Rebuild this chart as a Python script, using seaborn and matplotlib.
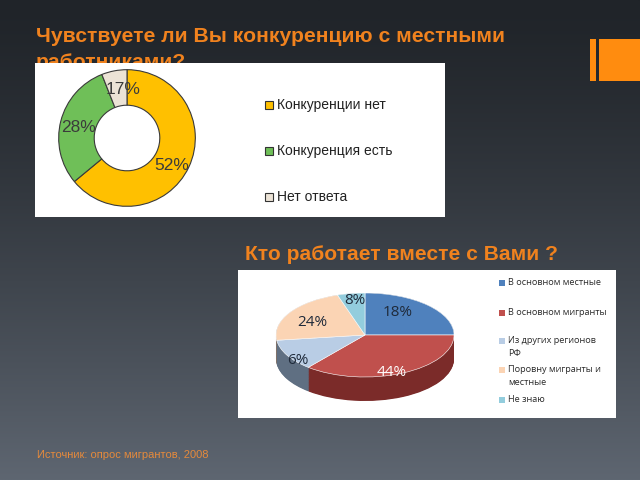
import numpy as np
import matplotlib
matplotlib.use("Agg")
import matplotlib.pyplot as plt
import seaborn as sns
from matplotlib.patches import Rectangle

# ---------------- data ----------------
title1_lines = ["Чувствуете ли Вы конкуренцию с местными", "работниками?"]
comp_categories = ["Конкуренции нет", "Конкуренция есть", "Нет ответа"]
comp_shares = [64, 30, 6]            # slice sizes as drawn in the picture
comp_labels = ["52%", "28%", "17%"]  # printed labels
comp_colors = ["#ffc000", "#6fbf58", "#ece3d6"]

title2 = "Кто работает вместе с Вами ?"
work_categories = ["В основном местные", "В основном мигранты",
                   "Из других регионов\nРФ", "Поровну мигранты и\nместные", "Не знаю"]
work_shares = [25, 36, 12, 22, 5]    # slice sizes as drawn in the picture
work_labels = ["18%", "44%", "6%", "24%", "8%"]
work_colors = ["#4f81bd", "#c0504d", "#b9cde5", "#fbd4b4", "#93cddd"]
work_side_colors = ["#2f4d72", "#7b2b29", "#5f6f82", "#8a7566", "#5a8593"]

source = "Источник: опрос мигрантов, 2008"

# ---------------- figure ----------------
sns.set_theme(style="white")
plt.rcParams['font.family'] = ['Liberation Sans', 'DejaVu Sans']

W, H = 640, 480
fig = plt.figure(figsize=(6.4, 4.8), dpi=100)

def px_axes(x0, y0, x1, y1, z=1):
    """axes from pixel box (top-left origin)"""
    return fig.add_axes([x0 / W, 1 - y1 / H, (x1 - x0) / W, (y1 - y0) / H], zorder=z)

# background gradient
bg = px_axes(0, 0, W, H, z=0)
grad = np.linspace(0, 1, 256)[:, None]
top = np.array([0x20, 0x24, 0x29]) / 255
bot = np.array([0x5e, 0x66, 0x71]) / 255
img = top + (bot - top) * (grad[..., None] ** 1.3)
img = np.repeat(img, 2, axis=1)
bg.imshow(img, aspect="auto", extent=(0, W, H, 0))
bg.set_xlim(0, W); bg.set_ylim(H, 0); bg.axis("off")

orange = "#f0821e"
# decorative bars
bg.add_patch(Rectangle((590, 39), 6, 42, color="#ff8c0f", lw=0))
bg.add_patch(Rectangle((599, 39), 41, 42, color="#ff8c0f", lw=0))

# titles
bg.text(36, 36, title1_lines[0], color=orange, fontsize=15.2, fontweight="bold",
        va="center", ha="left")
bg.text(36, 62, title1_lines[1], color=orange, fontsize=15.2, fontweight="bold",
        va="center", ha="left")
bg.text(245, 255, title2, color=orange, fontsize=15.1, fontweight="bold",
        va="center", ha="left")
bg.text(37, 455, source, color="#e58a3c", fontsize=8, va="center", ha="left")

# ---------------- panel 1: donut ----------------
p1 = px_axes(35, 63, 445, 217, z=2)
p1.set_xlim(35, 445); p1.set_ylim(217, 63)
p1.add_patch(Rectangle((35, 63), 410, 154, color="white", lw=0))
p1.axis("off")

cx, cy, R = 127, 138, 69
d1 = px_axes(cx - R, cy - R, cx + R, cy + R, z=3)
d1.pie(comp_shares, colors=comp_colors, startangle=90, counterclock=False,
       radius=1.0, wedgeprops=dict(width=0.52, edgecolor="#3a3a3a", linewidth=0.8))
d1.set_xlim(-1.01, 1.01); d1.set_ylim(-1.01, 1.01)
d1.axis("off")

# overlay for labels
ov = px_axes(0, 0, W, H, z=10)
ov.set_xlim(0, W); ov.set_ylim(H, 0); ov.axis("off")
ov.patch.set_alpha(0)

lab_pos1 = [(172, 165), (78, 128), (123, 90)]
for (x, y), t in zip(lab_pos1, comp_labels):
    ov.text(x, y, t, fontsize=12.5, color="#3b3b3b", ha="center", va="center")

leg_y1 = [105, 151, 197]
for y, c, t in zip(leg_y1, comp_colors, comp_categories):
    p1.add_patch(Rectangle((265, y - 4), 8, 8, facecolor=c, edgecolor="#333333", lw=0.8))
    p1.text(277, y, t, fontsize=10, color="#222222", ha="left", va="center")

# ---------------- panel 2: 3D-looking pie ----------------
p2 = px_axes(238, 270, 616, 418, z=2)
p2.set_xlim(238, 616); p2.set_ylim(418, 270)
p2.add_patch(Rectangle((238, 270), 378, 148, color="white", lw=0))
p2.axis("off")

pcx, pcy, a, b, depth = 365, 335, 89, 42, 24
dd = depth / b
pa = px_axes(pcx - a, pcy - b, pcx + a, pcy + b + depth, z=3)
for t in np.linspace(dd, 0.0, 40):
    pa.pie(work_shares, colors=work_side_colors, startangle=90, counterclock=False,
           center=(0, -t), radius=1.0, wedgeprops=dict(linewidth=0))
pa.pie(work_shares, colors=work_colors, startangle=90, counterclock=False,
       center=(0, 0), radius=1.0, wedgeprops=dict(linewidth=0.4, edgecolor="white"))
pa.set_aspect("auto")
pa.set_xlim(-1, 1); pa.set_ylim(-1 - dd, 1)
pa.axis("off")

lab_pos2 = [(398, 312), (392, 372), (298, 360), (312, 322), (355, 300)]
lab_col2 = ["#1f2a3a", "white", "#1f2a3a", "#1f2a3a", "#1f2a3a"]
for (x, y), t, c in zip(lab_pos2, work_labels, lab_col2):
    ov.text(x, y, t, fontsize=11, color=c, ha="center", va="center",
            family=["Open Sans", "DejaVu Sans"])

leg_y2 = [283, 313, 347, 376, 400]
for y, c, t in zip(leg_y2, work_colors, work_categories):
    nlines = t.count("\n")
    sq_y = y - 5.5 * nlines
    p2.add_patch(Rectangle((499, sq_y - 3), 6, 6, facecolor=c, lw=0))
    p2.text(508, y, t, fontsize=6.6, color="#2b2b2b", ha="left", va="center",
            linespacing=1.55, family=["Open Sans", "DejaVu Sans"])

fig.savefig("out.png", dpi=100)
